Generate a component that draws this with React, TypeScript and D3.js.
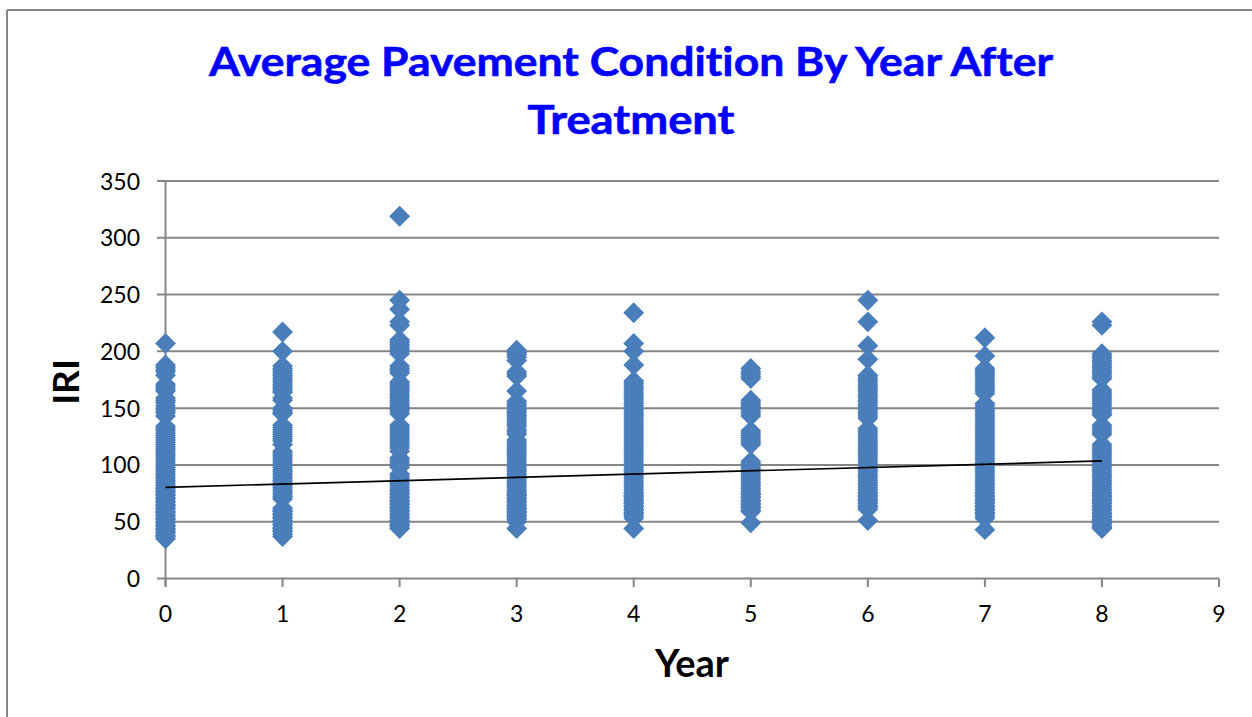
import React from "react";
import * as d3 from "d3";

const titleLines = ["Average Pavement Condition By Year After", "Treatment"];
const xTicks = [0, 1, 2, 3, 4, 5, 6, 7, 8, 9];
const yTicks = [0, 50, 100, 150, 200, 250, 300, 350];

const year0 = [207,188,186,184,182,179,171,169,167,165,159,157,155,152,150,148,146,143,134,132,130,128,126,124,122,120,118,116,114,112,110,108,106,104,102,100,98,96,94,92,90,88,86,84,82,80,79,77,76,74,73,71,70,68,67,65,64,62,61,59,58,56,55,53,52,50,49,47,46,44,43,41,40,38,37,35];
const year1 = [217,200,187,185,183,181,179,177,175,173,171,169,167,165,164,159,157,150,148,146,145,135,133,131,129,127,125,123,121,118,112,110,108,106,104,102,100,98,96,94,92,90,88,86,84,82,80,78,76,74,72,70,62,60,59,57,56,54,53,51,50,48,47,45,44,42,41,39,37];
const year2 = [319,245,237,226,223,210,208,206,204,202,200,198,187,185,183,181,173,171,169,167,165,163,161,159,157,155,153,151,149,147,145,135,133,131,129,127,125,123,121,119,117,115,112,106,104,102,100,98,92,90,88,86,84,82,80,78,77,75,74,72,71,69,68,66,65,63,62,60,59,57,56,54,53,51,50,48,47,46,44];
const year3 = [201,199,197,195,192,182,180,178,165,156,154,152,150,148,146,144,142,140,138,136,134,131,129,127,122,120,118,116,114,112,110,108,106,104,102,100,98,96,94,92,90,88,86,84,82,80,78,76,74,73,71,70,68,67,65,64,62,61,59,58,56,55,53,52,50,44];
const year4 = [234,207,200,188,174,172,170,168,166,164,162,160,158,156,154,152,150,148,146,144,142,140,138,136,134,132,130,128,126,124,122,120,118,116,114,112,110,108,106,104,102,100,98,96,94,92,90,88,86,84,82,80,78,76,75,73,72,70,69,67,66,64,63,61,60,58,57,55,53,44];
const year5 = [185,182,180,178,176,157,155,153,151,149,147,145,143,130,128,126,124,122,120,118,103,101,99,97,95,93,91,89,87,85,83,81,79,77,75,74,72,71,69,68,66,65,63,62,60,59,49];
const year6 = [245,226,205,193,179,177,175,173,171,169,167,165,163,161,159,157,155,153,151,149,147,145,143,141,132,130,128,126,124,122,120,118,116,114,112,110,108,106,104,102,100,98,96,94,92,90,88,86,84,82,80,78,76,75,73,72,70,69,67,66,64,63,61,51];
const year7 = [212,196,185,183,181,179,177,175,173,171,169,167,165,163,154,152,150,148,146,144,142,140,138,136,134,132,130,128,126,124,122,120,118,116,114,112,110,108,106,104,102,100,98,96,94,92,90,88,86,84,82,80,78,76,75,73,72,70,69,67,66,64,63,61,60,58,57,55,53,43];
const year8 = [226,223,198,196,194,192,190,188,186,184,182,180,178,176,166,164,162,160,158,156,154,152,150,148,146,144,135,133,131,129,127,118,116,114,112,110,108,106,104,102,100,98,96,94,92,90,88,86,84,82,80,78,76,75,73,72,70,69,67,66,64,63,61,60,58,57,55,54,52,51,49,48,46,45,44];
const years = [year0, year1, year2, year3, year4, year5, year6, year7, year8];

const trendX = [0, 8];
const trendY = [80.3, 103.5];

const FONT = "Lato, 'Open Sans', sans-serif";
const GRID = "#868686";
const MARK = "#4a7ebb";

export default function App() {
  const x = d3.scaleLinear().domain([0, 9]).range([165.5, 1219]);
  const y = d3.scaleLinear().domain([0, 350]).range([578.5, 181]);
  const diamond = d3.symbol(d3.symbolSquare, 218)() as string;
  const trend = d3.line<number>().x((d) => x(d)).y((_, i) => y(trendY[i]))(trendX) as string;

  return (
    <svg
      width={1252}
      height={717}
      viewBox="0 0 1252 717"
      style={{ position: "absolute", left: 0, top: 0, background: "#fff", fontVariantLigatures: "none" }}
      fontFamily={FONT}
    >
      <line x1={7} y1={10} x2={1252} y2={10} stroke={GRID} strokeWidth={2} />
      <line x1={7} y1={10} x2={7} y2={717} stroke={GRID} strokeWidth={2} />

      {titleLines.map((t, i) => (
        <text
          key={t}
          x={631}
          y={76 + i * 58}
          textAnchor="middle"
          fontWeight={700}
          fontSize={41}
          fill="#0000ff"
          stroke="#0000ff"
          strokeWidth={0.6}
          textLength={i === 0 ? 844 : 207}
          lengthAdjust="spacingAndGlyphs"
        >
          {t}
        </text>
      ))}

      {yTicks.map((t) => (
        <g key={t}>
          <line x1={157} x2={x(9)} y1={y(t)} y2={y(t)} stroke={GRID} strokeWidth={2} />
          <text x={140} y={y(t) + 8.5} textAnchor="end" fontSize={23} fill="#000">
            {t}
          </text>
        </g>
      ))}
      <line x1={x(0)} x2={x(0)} y1={y(350)} y2={587} stroke={GRID} strokeWidth={2} />
      {xTicks.map((t) => (
        <g key={t}>
          <line x1={x(t)} x2={x(t)} y1={y(0)} y2={587} stroke={GRID} strokeWidth={2} />
          <text x={x(t)} y={622} textAnchor="middle" fontSize={23} fill="#000">
            {t}
          </text>
        </g>
      ))}

      {years.map((vals, i) =>
        vals.map((v, j) => (
          <path
            key={`${i}-${j}`}
            d={diamond}
            transform={`translate(${x(i)},${y(v)}) rotate(45)`}
            fill={MARK}
          />
        ))
      )}

      <path d={trend} fill="none" stroke="#000" strokeWidth={1.7} />

      <text x={692} y={677} textAnchor="middle" fontWeight={700} fontSize={38} fill="#000">
        Year
      </text>
      <text
        transform="translate(79,382) rotate(-90)"
        textAnchor="middle"
        fontWeight={700}
        fontSize={37}
        fill="#000"
      >
        IRI
      </text>
    </svg>
  );
}
